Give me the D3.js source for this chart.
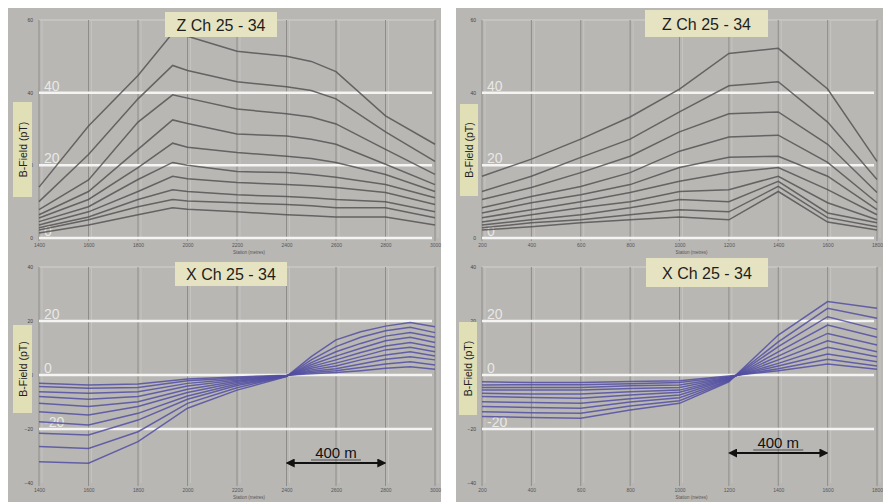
<!DOCTYPE html>
<html>
<head>
<meta charset="utf-8">
<script src="https://cdn.jsdelivr.net/npm/d3@7"></script>
<style>
  body { margin: 0; background: #fff; }
  svg { display: block; font-family: Arial, "Liberation Sans", sans-serif; }
</style>
</head>
<body>
<div id="chart"></div>
<script>
// basic dimensions
var width = 883;
var height = 502;

// channel names (one line per channel)
var channels = ["Ch25", "Ch26", "Ch27", "Ch28", "Ch29", "Ch30", "Ch31", "Ch32", "Ch33", "Ch34"];

// station ticks (m)
var leftTicks = [1400, 1600, 1800, 2000, 2200, 2400, 2600, 2800, 3000];
var rightTicks = [200, 400, 600, 800, 1000, 1200, 1400, 1600, 1800];

// Z component, left profile
var zLeftStations = [1400, 1600, 1800, 1940, 2000, 2200, 2400, 2500, 2600, 2800, 3000];
var zLeftValues = [
    [14, 30.8, 44.7, 56.4, 55.5, 51.4, 50, 48.6, 45.8, 33.6, 25.8],
    [10, 23, 38.3, 47.5, 46.1, 43, 41.6, 40.6, 38.3, 29.2, 21.1],
    [7.8, 16, 31.9, 39.4, 38.5, 35.5, 34.2, 33.3, 31.4, 24.4, 17.5],
    [6.4, 12.8, 24.4, 32.5, 31.5, 28.6, 28.1, 27.2, 25.8, 20.3, 14.7],
    [5.5, 10.6, 19.4, 26.1, 25, 23.5, 22.5, 21.9, 20.8, 17.5, 12.8],
    [4.5, 8.6, 16.1, 20.8, 20, 18.3, 18, 17.5, 16.7, 14.7, 11.1],
    [3.6, 7.2, 12.8, 17, 16.3, 15.3, 14.7, 14.4, 13.9, 12.5, 9.2],
    [2.8, 5.8, 10.6, 13.3, 12.8, 11.9, 11.4, 11.1, 10.6, 10, 7.2],
    [2.2, 5, 8.6, 10.6, 10.2, 9.7, 9.2, 8.9, 8.3, 8.3, 5.6],
    [1.4, 3.6, 6.4, 8.3, 7.9, 7.2, 6.4, 6.1, 5.8, 5.8, 3.6]
];

// Z component, right profile
var zRightStations = [200, 400, 600, 800, 1000, 1200, 1400, 1600, 1800];
var zRightValues = [
    [17, 21.7, 27.2, 33.3, 41, 50.8, 52.2, 41, 21.1],
    [12.8, 17, 22.2, 27.2, 34.7, 41.9, 43, 31.9, 16.1],
    [10.6, 13.9, 18, 22.5, 29.2, 34.2, 34.7, 25.8, 12.5],
    [8.3, 11.4, 14.2, 18, 23.9, 27.8, 28.3, 20.8, 9.7],
    [6.9, 9.7, 11.9, 14.7, 19.4, 22.2, 22.5, 17, 7.8],
    [5.6, 7.8, 10, 12.5, 15.6, 18, 19.4, 13.3, 6.4],
    [4.4, 6.4, 8.3, 10, 12.8, 13.3, 17, 9.7, 5],
    [3.6, 5, 6.4, 8.3, 10.6, 10, 15.6, 6.9, 4.2],
    [2.8, 4.2, 5, 6.4, 7.8, 7.2, 14.2, 5.6, 3.1],
    [2.2, 3.1, 4.2, 5, 5.8, 5, 12.8, 4.4, 2.2]
];

// X component, left profile
var xLeftStations = [1400, 1600, 1800, 2000, 2200, 2400, 2500, 2600, 2700, 2800, 2900, 3000];
var xLeftValues = [
    [-32.1, -32.7, -24.7, -12.3, -5.6, -0.6, 6.8, 13, 16, 18.1, 19.4, 17.9],
    [-26.5, -27.2, -21, -10.5, -4.7, -0.5, 5.6, 10.5, 14, 16.4, 17.7, 15.7],
    [-21.6, -22.2, -16.7, -9, -3.9, -0.5, 4.6, 8.6, 11.7, 14.4, 15.7, 14],
    [-17.3, -18.5, -14.2, -7.8, -3.3, -0.4, 3.8, 7, 9.9, 12.7, 14, 12],
    [-13.6, -14.8, -11.7, -6.5, -2.8, -0.4, 3.1, 5.6, 8.3, 10.7, 12, 10.3],
    [-10.5, -11.7, -9.9, -5.3, -2.3, -0.3, 2.5, 4.4, 6.8, 9.3, 10.3, 8.6],
    [-8, -9, -8, -4.1, -1.9, -0.3, 1.9, 3.3, 5.6, 7.4, 8.6, 7],
    [-6.2, -6.8, -6.2, -3.1, -1.5, -0.2, 1.4, 2.3, 4.1, 5.8, 6.8, 5.6],
    [-4.3, -4.9, -4.6, -2.1, -1.1, -0.2, 0.9, 1.6, 2.8, 4.1, 4.9, 3.7],
    [-3.1, -3.7, -3.3, -1.5, -0.7, -0.1, 0.5, 0.9, 1.6, 2.5, 3.1, 2.1]
];

// X component, right profile
var xRightStations = [200, 400, 600, 800, 1000, 1200, 1400, 1600, 1800];
var xRightValues = [
    [-15.4, -15.7, -16, -13, -10.5, -2.5, 14.8, 27.2, 24.7],
    [-13.6, -14, -14.2, -11.5, -9.5, -2.2, 12.3, 24.7, 21],
    [-11.7, -12, -12.3, -10, -8.4, -2, 10.5, 21.6, 16.9],
    [-9.9, -10.2, -10.5, -8.8, -7.4, -1.7, 8.6, 18.5, 14],
    [-8, -8.3, -8.6, -7.4, -6.4, -1.5, 7, 15.4, 11.1],
    [-6.8, -7, -7, -6.2, -5.6, -1.2, 5.6, 12.7, 8.6],
    [-5.6, -5.6, -5.6, -5, -4.6, -1, 4.3, 10.3, 6.8],
    [-4.6, -4.6, -4.6, -4, -3.7, -0.8, 3.3, 7.8, 4.9],
    [-3.7, -3.6, -3.6, -3.2, -2.8, -0.6, 2.3, 5.8, 3.3],
    [-2.5, -2.8, -2.8, -2.4, -2.1, -0.4, 1.6, 4.1, 2.1]
];

var zTicks = [0, 20, 40, 60];
var zRefLines = [0, 20, 40];
var xCompTicks = [-40, -20, 0, 20, 40];
var xRefLines = [-20, 0, 20];

var svg = d3.select("#chart")
    .append("svg")
    .attr("width", width)
    .attr("height", height);

// grey backgrounds of the two columns
svg.append("rect").attr("x", 8).attr("y", 8).attr("width", 433).attr("height", 494).attr("fill", "#b9b7b4");
svg.append("rect").attr("x", 456).attr("y", 8).attr("width", 427).attr("height", 494).attr("fill", "#b9b7b4");

var panels = [
    { title: "Z  Ch 25 - 34", stations: zLeftStations, values: zLeftValues, ticks: leftTicks,
      yTicks: zTicks, refs: zRefLines, domainY: [0, 60], x0: 39, x1: 435, y0: 238, y1: 20,
      titleBox: [165, 12, 112, 25], labelBox: [13, 102, 19, 95], colour: "#555453", arrow: false },
    { title: "Z  Ch 25 - 34", stations: zRightStations, values: zRightValues, ticks: rightTicks,
      yTicks: zTicks, refs: zRefLines, domainY: [0, 60], x0: 482, x1: 877, y0: 238, y1: 20,
      titleBox: [645, 10, 123, 27], labelBox: [460, 104, 18, 92], colour: "#555453", arrow: false },
    { title: "X  Ch 25 - 34", stations: xLeftStations, values: xLeftValues, ticks: leftTicks,
      yTicks: xCompTicks, refs: xRefLines, domainY: [-40, 40], x0: 39, x1: 435, y0: 483, y1: 267,
      titleBox: [175, 262, 112, 24], labelBox: [13, 325, 19, 88], colour: "#524fa2", arrow: true, arrowY: 463 },
    { title: "X  Ch 25 - 34", stations: xRightStations, values: xRightValues, ticks: rightTicks,
      yTicks: xCompTicks, refs: xRefLines, domainY: [-40, 40], x0: 482, x1: 877, y0: 483, y1: 267,
      titleBox: [646, 258, 122, 29], labelBox: [459, 322, 18, 93], colour: "#524fa2", arrow: true, arrowY: 453 }
];

svg.append("defs").append("marker")
    .attr("id", "head")
    .attr("viewBox", "0 0 10 10")
    .attr("refX", 8).attr("refY", 5)
    .attr("markerWidth", 5).attr("markerHeight", 5)
    .attr("orient", "auto-start-reverse")
    .append("path")
    .attr("d", "M0,0L10,5L0,10Z")
    .attr("fill", "#111");

panels.forEach(function(p) {
    var xScale = d3.scaleLinear()
        .domain([p.ticks[0], p.ticks[p.ticks.length - 1]])
        .range([p.x0, p.x1]);
    var yScale = d3.scaleLinear().domain(p.domainY).range([p.y0, p.y1]);

    var g = svg.append("g");

    // light frame at the top of the plot area
    g.append("line")
        .attr("x1", p.x0).attr("x2", p.x1)
        .attr("y1", yScale(p.domainY[1])).attr("y2", yScale(p.domainY[1]))
        .attr("stroke", "#cbc9c6").attr("stroke-width", 1.5);

    // vertical grid (doubled look of the scan)
    g.selectAll(".gridLight")
        .data(p.ticks)
        .enter().append("line")
        .attr("x1", function(d) { return xScale(d) + 3; })
        .attr("x2", function(d) { return xScale(d) + 3; })
        .attr("y1", p.y1).attr("y2", p.y0)
        .attr("stroke", "#c6c4c1").attr("stroke-width", 1);
    g.selectAll(".grid")
        .data(p.ticks)
        .enter().append("line")
        .attr("x1", function(d) { return xScale(d); })
        .attr("x2", function(d) { return xScale(d); })
        .attr("y1", p.y1).attr("y2", p.y0 + 3)
        .attr("stroke", "#8f8d8a").attr("stroke-width", 1);

    // tiny axes labels
    var xAxis = d3.axisBottom(xScale).tickValues(p.ticks).tickSize(0).tickPadding(5).tickFormat(d3.format("d"));
    var ax = g.append("g")
        .attr("transform", "translate(0," + p.y0 + ")")
        .call(xAxis);
    ax.select(".domain").remove();
    ax.selectAll("text").attr("font-size", 5).attr("fill", "#555");

    var yAxis = d3.axisLeft(yScale).tickValues(p.yTicks).tickSize(0).tickPadding(6);
    var ay = g.append("g")
        .attr("transform", "translate(" + p.x0 + ",0)")
        .call(yAxis);
    ay.select(".domain").remove();
    ay.selectAll("text").attr("font-size", 5).attr("fill", "#444");

    g.append("text")
        .attr("x", (p.x0 + p.x1) / 2 + 12)
        .attr("y", p.y0 + 16)
        .attr("text-anchor", "middle")
        .attr("font-size", 4.5)
        .attr("fill", "#555")
        .text("Station (metres)");

    // white reference lines with labels
    g.selectAll(".ref")
        .data(p.refs)
        .enter().append("line")
        .attr("x1", p.x0).attr("x2", p.x1 - 3)
        .attr("y1", function(d) { return yScale(d); })
        .attr("y2", function(d) { return yScale(d); })
        .attr("stroke", "#f4f4f2").attr("stroke-width", 2.5);
    g.selectAll(".refLabel")
        .data(p.refs)
        .enter().append("text")
        .attr("x", p.x0 + 5)
        .attr("y", function(d) { return yScale(d) - 2; })
        .attr("font-size", 14)
        .attr("fill", "#f2f2ef")
        .attr("fill-opacity", 0.85)
        .text(function(d) { return d; });

    // channel lines
    var lineGen = d3.line()
        .x(function(d, i) { return xScale(p.stations[i]); })
        .y(function(d) { return yScale(d); });

    g.selectAll(".ch")
        .data(p.values)
        .enter().append("path")
        .attr("d", lineGen)
        .attr("fill", "none")
        .attr("stroke", p.colour)
        .attr("stroke-opacity", 0.85)
        .attr("stroke-width", 1.5);

    // title box
    g.append("rect")
        .attr("x", p.titleBox[0]).attr("y", p.titleBox[1])
        .attr("width", p.titleBox[2]).attr("height", p.titleBox[3])
        .attr("fill", "#e6e3c3");
    g.append("text")
        .attr("x", p.titleBox[0] + p.titleBox[2] / 2)
        .attr("y", p.titleBox[1] + p.titleBox[3] / 2 + 6)
        .attr("text-anchor", "middle")
        .attr("font-size", 16)
        .attr("fill", "#1e1e1a")
        .text(p.title);

    // y axis label box
    g.append("rect")
        .attr("x", p.labelBox[0]).attr("y", p.labelBox[1])
        .attr("width", p.labelBox[2]).attr("height", p.labelBox[3])
        .attr("fill", "#e1dfb6");
    g.append("text")
        .attr("transform", "translate(" + (p.labelBox[0] + p.labelBox[2] / 2 + 4) + "," +
            (p.labelBox[1] + p.labelBox[3] / 2) + ") rotate(-90)")
        .attr("text-anchor", "middle")
        .attr("font-size", 10.5)
        .attr("fill", "#222")
        .text("B-Field (pT)");

    // 400 m scale arrow (two station intervals)
    if (p.arrow) {
        var a0 = xScale(p.ticks[5]);
        var a1 = xScale(p.ticks[7]);
        g.append("line")
            .attr("x1", a0 + 1).attr("x2", a1 - 1)
            .attr("y1", p.arrowY).attr("y2", p.arrowY)
            .attr("stroke", "#111").attr("stroke-width", 1.8)
            .attr("marker-start", "url(#head)")
            .attr("marker-end", "url(#head)");
        g.append("text")
            .attr("x", (a0 + a1) / 2)
            .attr("y", p.arrowY - 5)
            .attr("text-anchor", "middle")
            .attr("font-size", 15)
            .attr("fill", "#111")
            .text("400 m");
        g.append("line")
            .attr("x1", (a0 + a1) / 2 - 25).attr("x2", (a0 + a1) / 2 + 25)
            .attr("y1", p.arrowY - 3).attr("y2", p.arrowY - 3)
            .attr("stroke", "#333").attr("stroke-width", 0.8);
    }
});
</script>
</body>
</html>
